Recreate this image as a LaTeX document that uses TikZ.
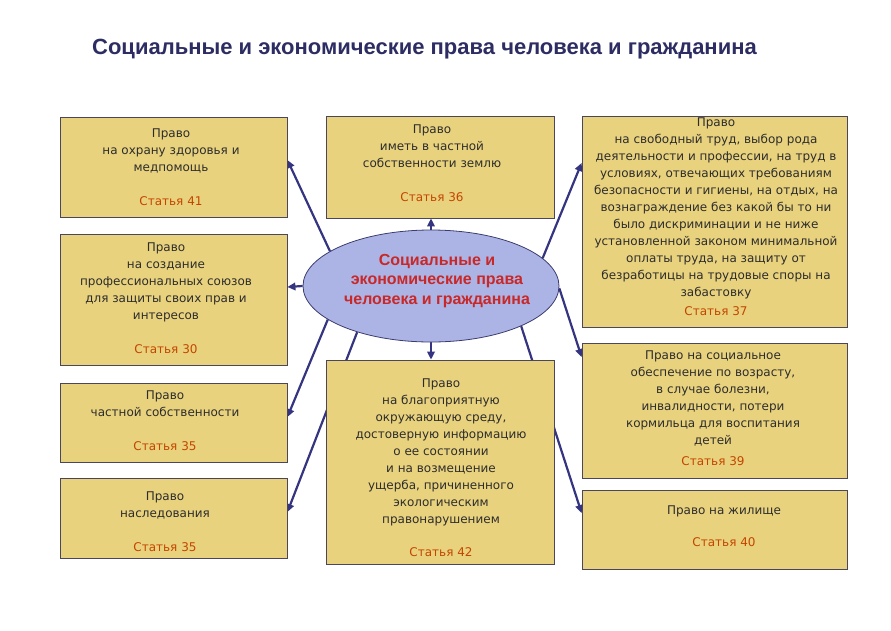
\documentclass[tikz,border=0pt]{standalone}
\usepackage{fontspec}
\setmainfont{DejaVu Sans}
\newfontfamily\titlefont{Liberation Sans}
\usetikzlibrary{shapes.geometric,arrows.meta,backgrounds}
\definecolor{boxfill}{RGB}{233,210,125}
\definecolor{boxline}{RGB}{75,70,90}
\definecolor{ellfill}{RGB}{172,180,230}
\definecolor{ellline}{RGB}{60,60,110}
\definecolor{arrcol}{RGB}{52,52,128}
\definecolor{txtcol}{RGB}{45,45,45}
\definecolor{artcol}{RGB}{195,70,0}
\definecolor{titlecol}{RGB}{45,45,100}
\definecolor{redcol}{RGB}{200,40,40}
\newcommand\statya[1]{\textcolor{artcol}{Статья #1}}
\begin{document}
\begin{tikzpicture}[x=1pt,y=-1pt,
  box/.style={draw=boxline, line width=0.8pt, fill=boxfill, inner sep=0pt},
  txt/.style={align=center, font=\fontsize{12}{17}\selectfont, text=txtcol, inner sep=0pt},
  arr/.style={draw=arrcol, line width=2.2pt, -{Triangle[length=8pt,width=7.5pt]}}]
\useasboundingbox (0,0) rectangle (891,630);
% title
\node[font=\titlefont\bfseries\fontsize{22}{26}\selectfont, text=titlecol] (title) at (424.5,49) {Социальные и экономические права человека и гражданина};
% boxes
\node[box, minimum width=227pt, minimum height=100pt] (b1) at (173.5,167) {};
\node[box, minimum width=227pt, minimum height=131pt] (b2) at (173.5,299.5) {};
\node[box, minimum width=227pt, minimum height=79pt] (b3) at (173.5,422.5) {};
\node[box, minimum width=227pt, minimum height=80pt] (b4) at (173.5,518) {};
\node[box, minimum width=228pt, minimum height=102pt] (c1) at (440,167) {};
\node[box, minimum width=228pt, minimum height=204pt] (c2) at (440,462) {};
\node[box, minimum width=265pt, minimum height=211pt] (r1) at (714.5,221.5) {};
\node[box, minimum width=265pt, minimum height=135pt] (r2) at (714.5,410.5) {};
\node[box, minimum width=265pt, minimum height=79pt] (r3) at (714.5,529.5) {};
% ellipse
\node[ellipse, draw=ellline, line width=0.8pt, fill=ellfill, minimum width=256pt, minimum height=112pt, inner sep=0pt] (ell) at (431,286) {};
% texts
\node[txt] (b1t) at (171,167.5) {Право\\на охрану здоровья и\\медпомощь\\[17pt]\statya{41}};
\node[txt] (b2t) at (166,298) {Право\\на создание\\профессиональных союзов\\для защиты своих прав и\\интересов\\[17pt]\statya{30}};
\node[txt] (b3t) at (165,421) {Право\\частной собственности\\[17pt]\statya{35}};
\node[txt] (b4t) at (165,521.5) {Право\\наследования\\[17pt]\statya{35}};
\node[txt] (c1t) at (432,163) {Право\\иметь в частной\\собственности землю\\[17pt]\statya{36}};
\node[txt] (c2t) at (441,467.5) {Право\\на благоприятную\\окружающую среду,\\достоверную информацию\\о ее состоянии\\и на возмещение\\ущерба, причиненного\\экологическим\\правонарушением\\[16pt]\statya{42}};
\node[txt] (r1t) at (716,217) {Право\\на свободный труд, выбор рода\\деятельности и профессии, на труд в\\условиях, отвечающих требованиям\\безопасности и гигиены, на отдых, на\\вознаграждение без какой бы то ни\\было дискриминации и не ниже\\установленной законом минимальной\\оплаты труда, на защиту от\\безработицы на трудовые споры на\\забастовку\\[2pt]\statya{37}};
\node[txt] (r2t) at (713,408.5) {Право на социальное\\обеспечение по возрасту,\\в случае болезни,\\инвалидности, потери\\кормильца для воспитания\\детей\\[4pt]\statya{39}};
\node[txt] (r3t) at (724,526) {Право на жилище\\[15pt]\statya{40}};
\node[align=center, inner sep=0pt, text=redcol, font=\titlefont\bfseries\fontsize{16}{19.5}\selectfont] (ellt) at (437,281) {Социальные и\\экономические права\\человека и гражданина};
% arrows
\begin{pgfonlayer}{background}
\draw[arr] (ell.161) -- ([yshift=7pt]b1.east);
\draw[arr] (ell.180) -- ([yshift=12.5pt]b2.east);
\draw[arr] (ell.198) -- ([yshift=5.5pt]b3.east);
\draw[arr] (ell.212) -- ([yshift=6pt]b4.east);
\draw[arr] (ell.north) -- (ell.north |- c1.south);
\draw[arr] (ell.south) -- (ell.south |- c2.north);
\draw[arr] (ell.14) -- ([yshift=58.5pt]r1.west);
\draw[arr] (ell.-1) -- ([yshift=53.5pt]r2.west);
\draw[arr] (ell.336) -- ([yshift=16.5pt]r3.west);
\end{pgfonlayer}
\end{tikzpicture}
\end{document}
